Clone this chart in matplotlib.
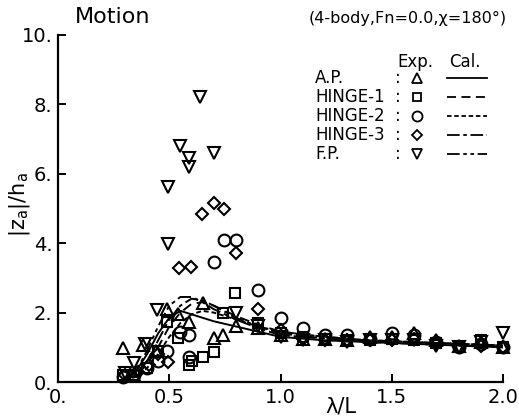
import matplotlib
matplotlib.use("Agg")
import matplotlib.pyplot as plt
from matplotlib.lines import Line2D

# ---- data ----
ap_x = [0.29, 0.34, 0.38, 0.44, 0.49, 0.54, 0.59, 0.65, 0.70, 0.74, 0.80, 0.90, 1.00, 1.10, 1.20, 1.30, 1.40, 1.50, 1.60, 1.70, 1.80, 1.90, 2.00]
ap_y = [0.98, 0.20, 1.07, 0.90, 2.10, 1.95, 1.72, 2.28, 1.28, 1.35, 1.62, 1.55, 1.35, 1.25, 1.25, 1.22, 1.30, 1.30, 1.40, 1.20, 1.05, 1.15, 1.00]

h1_x = [0.29, 0.34, 0.40, 0.45, 0.49, 0.54, 0.59, 0.60, 0.65, 0.70, 0.74, 0.795, 0.90, 1.00, 1.10, 1.20, 1.30, 1.40, 1.50, 1.60, 1.70, 1.80, 1.90, 2.00]
h1_y = [0.20, 0.20, 0.40, 0.90, 1.73, 1.27, 0.50, 0.60, 0.72, 0.86, 1.99, 2.56, 1.70, 1.40, 1.30, 1.25, 1.20, 1.20, 1.25, 1.20, 1.12, 1.00, 1.20, 1.00]

h2_x = [0.29, 0.34, 0.40, 0.45, 0.49, 0.55, 0.59, 0.59, 0.70, 0.746, 0.80, 0.90, 1.00, 1.10, 1.20, 1.30, 1.40, 1.50, 1.60, 1.70, 1.80, 1.90, 2.00]
h2_y = [0.15, 0.20, 0.40, 0.60, 0.90, 1.44, 0.72, 1.35, 3.46, 4.09, 4.09, 2.65, 1.84, 1.56, 1.35, 1.35, 1.25, 1.41, 1.35, 1.15, 1.00, 1.10, 1.00]

h3_x = [0.30, 0.36, 0.41, 0.45, 0.495, 0.544, 0.597, 0.647, 0.70, 0.746, 0.80, 0.90, 1.00, 1.10, 1.20, 1.30, 1.40, 1.50, 1.60, 1.70, 1.80, 1.90, 2.00]
h3_y = [0.20, 0.30, 0.50, 0.80, 0.58, 3.28, 3.31, 4.84, 5.16, 4.98, 3.72, 2.10, 1.50, 1.25, 1.20, 1.20, 1.20, 1.20, 1.25, 1.10, 1.00, 1.05, 1.00]

fp_x = [0.30, 0.34, 0.39, 0.445, 0.494, 0.494, 0.55, 0.59, 0.59, 0.64, 0.70, 0.80, 0.90, 1.00, 1.10, 1.20, 1.30, 1.40, 1.50, 1.60, 1.70, 1.80, 1.90, 2.00]
fp_y = [0.25, 0.55, 1.10, 2.07, 3.98, 5.62, 6.80, 6.45, 6.20, 8.20, 6.60, 2.00, 1.60, 1.30, 1.20, 1.20, 1.15, 1.20, 1.20, 1.20, 1.05, 1.00, 1.15, 1.40]

cal_x = [0.30, 0.35, 0.40, 0.45, 0.50, 0.55, 0.60, 0.65, 0.70, 0.80, 0.90, 1.00, 1.20, 1.40, 1.60, 1.80, 2.00]
ap_cal = [0.05, 0.30, 0.80, 1.40, 1.85, 2.05, 1.95, 1.85, 1.75, 1.60, 1.45, 1.30, 1.20, 1.15, 1.10, 1.05, 1.00]
h1_cal = [0.05, 0.20, 0.50, 1.00, 1.60, 2.00, 2.25, 2.30, 2.20, 1.90, 1.65, 1.45, 1.30, 1.20, 1.15, 1.10, 1.05]
h2_cal = [0.05, 0.15, 0.40, 0.80, 1.30, 1.70, 1.95, 2.05, 2.00, 1.80, 1.60, 1.45, 1.30, 1.20, 1.15, 1.10, 1.05]
h3_cal = [0.05, 0.20, 0.60, 1.20, 1.80, 2.20, 2.40, 2.35, 2.20, 1.85, 1.60, 1.40, 1.25, 1.20, 1.15, 1.10, 1.05]
fp_cal = [0.05, 0.30, 0.90, 1.60, 2.20, 2.45, 2.45, 2.30, 2.10, 1.80, 1.55, 1.35, 1.25, 1.15, 1.10, 1.05, 1.00]

names = ["A.P.", "HINGE-1", "HINGE-2", "HINGE-3", "F.P."]
xticks = [0.0, 0.5, 1.0, 1.5, 2.0]
xticklabels = ["0.", "0.5", "1.0", "1.5", "2.0"]
yticks = [0, 2, 4, 6, 8, 10]
yticklabels = ["0.", "2.", "4.", "6.", "8.", "10."]

# ---- styles ----
markers = ["^", "s", "o", "D", "v"]
msizes = [8.5, 6.5, 8.5, 6.5, 8.5]
linestyles = ["-", (0, (5, 3)), (0, (2.5, 1.5)), (0, (7, 2, 2, 2)), (0, (7, 2, 2, 2, 2, 2))]

W, H = 519, 420
fig = plt.figure(figsize=(W / 100, H / 100), dpi=100)
ax = fig.add_axes([58 / W, 1 - 382 / H, (503 - 58) / W, (382 - 35) / H])

exp = [(ap_x, ap_y), (h1_x, h1_y), (h2_x, h2_y), (h3_x, h3_y), (fp_x, fp_y)]
cal = [ap_cal, h1_cal, h2_cal, h3_cal, fp_cal]

for (xs, ys), m, ms in zip(exp, markers, msizes):
    ax.plot(xs, ys, linestyle="none", marker=m, ms=ms, mfc="none", mec="black", mew=1.5, clip_on=False)
for ys, ls in zip(cal, linestyles):
    ax.plot(cal_x, ys, color="black", lw=1.4, linestyle=ls)

ax.set_xlim(0, 2.0)
ax.set_ylim(0, 10)
ax.set_xticks(xticks)
ax.set_xticklabels(xticklabels)
ax.set_yticks(yticks)
ax.set_yticklabels(yticklabels)
ax.tick_params(direction="in", length=6, width=1.4, labelsize=14, pad=4)
for s in ["top", "right"]:
    ax.spines[s].set_visible(False)
for s in ["left", "bottom"]:
    ax.spines[s].set_linewidth(1.6)

fig.text(20 / W, 1 - 205 / H, r"$\mathregular{|z_a|/h_a}$", rotation=90, fontsize=15, ha="center", va="center")
fig.text(341 / W, 1 - 407 / H, "λ/L", fontsize=15, ha="center", va="center")
fig.text(75 / W, 1 - 17 / H, "Motion", fontsize=16, ha="left", va="center")
fig.text(309 / W, 1 - 18 / H, "(4-body,Fn=0.0,χ=180°)", fontsize=11.5, ha="left", va="center")

# legend (manual)
fig.text(415 / W, 1 - 62 / H, "Exp.", fontsize=12, ha="center", va="center")
fig.text(465 / W, 1 - 62 / H, "Cal.", fontsize=12, ha="center", va="center")
row_y = [78, 97, 116, 135, 154]
for name, m, ms, ls, ry in zip(names, markers, msizes, linestyles, row_y):
    fig.text(315 / W, 1 - ry / H, name, fontsize=12, ha="left", va="center")
    fig.text(398 / W, 1 - ry / H, ":", fontsize=12, ha="center", va="center")
    fig.add_artist(Line2D([417 / W], [1 - ry / H], marker=m, ms=ms * 0.85, mfc="none", mec="black", mew=1.3,
                          linestyle="none", transform=fig.transFigure))
    fig.add_artist(Line2D([447 / W, 487 / W], [1 - ry / H, 1 - ry / H], color="black", lw=1.3, linestyle=ls,
                          transform=fig.transFigure))

fig.savefig("out.png", dpi=100)
